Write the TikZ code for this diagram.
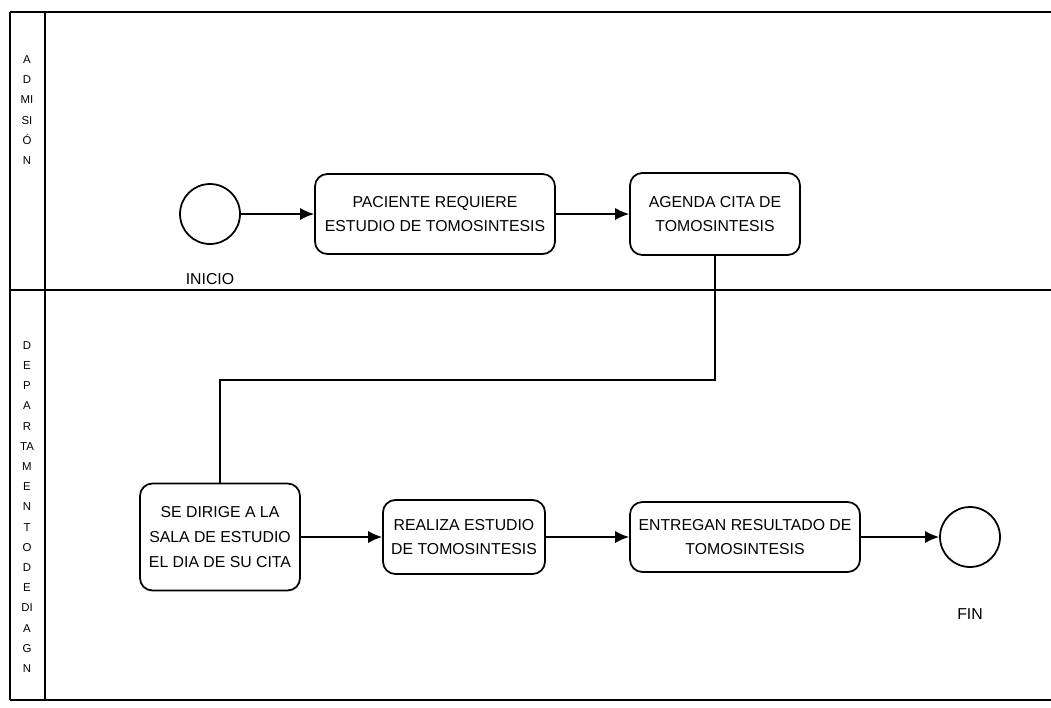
\documentclass[tikz,border=0pt]{standalone}
\usepackage{fontspec}
\setmainfont{Liberation Sans}
\usetikzlibrary{arrows.meta,positioning}

\begin{document}
\begin{tikzpicture}[x=0.02cm, y=-0.02cm,
    act/.style={draw, line width=1pt, rounded corners=7pt, align=center, font=\fontsize{9}{14}\selectfont},
    ev/.style={draw, line width=1pt, circle, minimum size=1.2cm, inner sep=0pt},
    lbl/.style={font=\fontsize{9}{11}\selectfont},
    lane/.style={align=center, font=\fontsize{6.5}{11.5}\selectfont},
    arr/.style={-{Latex[length=8pt,width=7pt]}, line width=1pt},
    frame/.style={line width=1.1pt}
]
\useasboundingbox (0,0) rectangle (1051,707);

% carriles
\draw[frame] (10,12) -- (1051,12);
\draw[frame] (10,290) -- (1051,290);
\draw[frame] (10,700) -- (1051,700);
\draw[frame] (10,12) -- (10,700);
\draw[frame] (45,12) -- (45,700);
\node[lane] (admision) at (27,110) {A\\D\\MI\\SI\\Ó\\N};
\node[lane] (depto) at (27,507) {D\\E\\P\\A\\R\\TA\\M\\E\\N\\T\\O\\D\\E\\DI\\A\\G\\N};

% admision
\node[ev] (inicio) at (210,214) {};
\node[lbl, below=0.45cm of inicio] (tinicio) {INICIO};
\node[act, minimum width=4.8cm, minimum height=1.6cm] (requiere) at (435,214) {PACIENTE REQUIERE\\ESTUDIO DE TOMOSINTESIS};
\node[act, minimum width=3.4cm, minimum height=1.64cm] (agenda) at (715,214) {AGENDA CITA DE\\TOMOSINTESIS};

% departamento
\node[act, minimum width=3.2cm, minimum height=2.14cm] (sala) at (220,537) {SE DIRIGE A LA\\SALA DE ESTUDIO\\EL DIA DE SU CITA};
\node[act, minimum width=3.24cm, minimum height=1.48cm] (realiza) at (464,537) {REALIZA ESTUDIO\\DE TOMOSINTESIS};
\node[act, minimum width=4.6cm, minimum height=1.4cm] (entregan) at (745,537) {ENTREGAN RESULTADO DE\\TOMOSINTESIS};
\node[ev] (fin) at (970,537) {};
\node[lbl, below=0.7cm of fin] (tfin) {FIN};

\coordinate (bend) at (715,380);

\draw[arr] (inicio) -- (requiere);
\draw[arr] (requiere) -- (agenda);
\draw[line width=0.6pt] (agenda.south) -- (bend) -| (sala.north);
\draw[arr] (sala) -- (realiza);
\draw[arr] (realiza) -- (entregan);
\draw[arr] (entregan) -- (fin);
\end{tikzpicture}
\end{document}
